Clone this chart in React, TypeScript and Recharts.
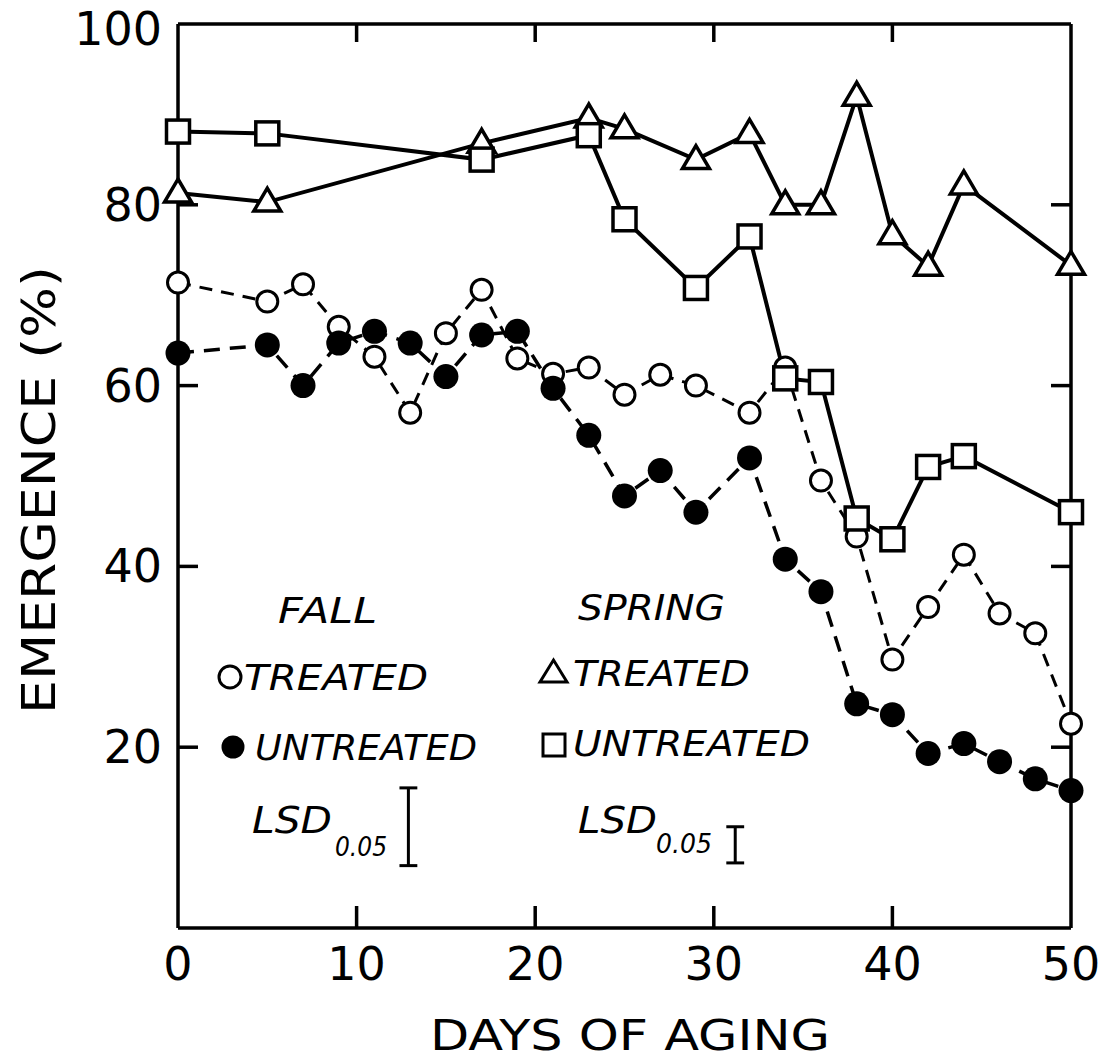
import React from "react";
import { LineChart, Line, XAxis, YAxis, ReferenceLine } from "recharts";

const W = 1109;
const H = 1063;
const FONT = "DejaVu Sans";

// days of aging and % emergence
const FALL_DAYS = [0, 5, 7, 9, 11, 13, 15, 17, 19, 21, 23, 25, 27, 29, 32, 34, 36, 38, 40, 42, 44, 46, 48, 50];
const FALL_TREATED = [71.4, 69.3, 71.2, 66.5, 63.2, 57, 65.8, 70.6, 63, 61.3, 62, 59, 61.2, 60, 57, 62, 49.5, 43.3, 29.7, 35.5, 41.3, 34.8, 32.6, 22.6];
const FALL_UNTREATED = [63.6, 64.5, 60, 64.7, 66, 64.7, 61, 65.6, 66, 59.7, 54.5, 47.8, 50.6, 46, 52, 40.8, 37.2, 24.8, 23.6, 19.3, 20.4, 18.4, 16.5, 15.2];

const SPRING_DAYS = [0, 5, 17, 23, 25, 29, 32, 34, 36, 38, 40, 42, 44, 50];
const SPRING_TREATED = [81.3, 80.3, 86.8, 89.6, 88.4, 85, 87.9, 80, 80, 92, 76.7, 73.2, 82.2, 73.3];
const SPRING_UNTREATED = [88.1, 87.9, 85, 87.7, 78.4, 70.8, 76.5, 60.8, 60.4, 45.3, 43, 51, 52.2, 46];

const X_TICKS = [0, 10, 20, 30, 40, 50];
const Y_TICKS = [20, 40, 60, 80, 100];

// least significant differences (P = 0.05)
const FALL_LSD = 8.6;
const SPRING_LSD = 4.0;

const rows = (days: number[], vals: number[]) => days.map((day, i) => ({ day, value: vals[i] }));
const fallTreated = rows(FALL_DAYS, FALL_TREATED);
const fallUntreated = rows(FALL_DAYS, FALL_UNTREATED);
const springTreated = rows(SPRING_DAYS, SPRING_TREATED);
const springUntreated = rows(SPRING_DAYS, SPRING_UNTREATED);

const AXIS = { stroke: "#000", strokeWidth: 3.5 };

const OpenCircle = (p: any) =>
  p.cx == null ? null : <circle key={p.index} cx={p.cx} cy={p.cy} r={10.5} fill="#fff" stroke="#000" strokeWidth={3} />;
const FilledCircle = (p: any) =>
  p.cx == null ? null : <circle key={p.index} cx={p.cx} cy={p.cy} r={12.5} fill="#000" />;
const Triangle = (p: any) =>
  p.cx == null ? null : (
    <polygon
      key={p.index}
      points={`${p.cx},${p.cy - 14} ${p.cx - 13.5},${p.cy + 9} ${p.cx + 13.5},${p.cy + 9}`}
      fill="#fff"
      stroke="#000"
      strokeWidth={3.5}
    />
  );
const Square = (p: any) =>
  p.cx == null ? null : (
    <rect key={p.index} x={p.cx - 11.5} y={p.cy - 11.5} width={23} height={23} fill="#fff" stroke="#000" strokeWidth={3.5} />
  );

const BottomTick = ({ x, y, payload }: any) => (
  <g>
    {payload.value > 0 && payload.value < 50 && <line x1={x} x2={x} y1={y} y2={y - 22} stroke="#000" strokeWidth={3.5} />}
    <text x={x} y={y + 36} textAnchor="middle" dominantBaseline="central" fontSize={46} fontFamily={FONT}>
      {payload.value}
    </text>
  </g>
);
const TopTick = ({ x, y, payload }: any) => (
  <line key={payload.value} x1={x} x2={x} y1={y} y2={y + 18} stroke="#000" strokeWidth={3.5} />
);
const LeftTick = ({ x, y, payload }: any) => (
  <g>
    {payload.value < 100 && <line x1={x} x2={x + 20} y1={y} y2={y} stroke="#000" strokeWidth={3.5} />}
    <text x={x - 16} y={payload.value === 100 ? y + 5 : y} textAnchor="end" dominantBaseline="central" fontSize={46} fontFamily={FONT}>
      {payload.value}
    </text>
  </g>
);
const RightTick = ({ x, y, payload }: any) => (
  <line key={payload.value} x1={x} x2={x - 20} y1={y} y2={y} stroke="#000" strokeWidth={3.5} />
);

// an LSD bar drawn in data units at a given spot of the plot
const lsdBar = (day: number, mid: number, len: number, key: string) => {
  const lo = mid - len / 2;
  const hi = mid + len / 2;
  const cap = 0.5;
  const style = { stroke: "#000", strokeWidth: 3, ifOverflow: "visible" as const };
  return [
    <ReferenceLine key={key + "s"} segment={[{ x: day, y: lo }, { x: day, y: hi }]} {...style} />,
    <ReferenceLine key={key + "t"} segment={[{ x: day - cap, y: hi }, { x: day + cap, y: hi }]} {...style} />,
    <ReferenceLine key={key + "b"} segment={[{ x: day - cap, y: lo }, { x: day + cap, y: lo }]} {...style} />,
  ];
};

export default function App() {
  const legendText = { fontFamily: FONT, fontStyle: "italic" as const, fontSize: 35, lengthAdjust: "spacingAndGlyphs" as const };
  return (
    <div style={{ position: "absolute", left: 0, top: 0, width: W, height: H, background: "#fff" }}>
      <LineChart width={W} height={H} margin={{ top: 23, right: 37, bottom: 134, left: 177 }}>
        <XAxis
          dataKey="day"
          type="number"
          domain={[0, 50]}
          ticks={X_TICKS}
          interval={0}
          height={1}
          tickSize={0}
          tickMargin={0}
          tickLine={false}
          axisLine={AXIS}
          tick={BottomTick}
        />
        <XAxis
          xAxisId="top"
          orientation="top"
          dataKey="day"
          type="number"
          domain={[0, 50]}
          allowDataOverflow
          ticks={[10, 20, 30, 40]}
          interval={0}
          height={1}
          tickSize={0}
          tickMargin={0}
          tickLine={false}
          axisLine={AXIS}
          tick={TopTick}
        />
        <YAxis
          type="number"
          domain={[0, 100]}
          ticks={Y_TICKS}
          interval={0}
          width={1}
          tickSize={0}
          tickMargin={0}
          tickLine={false}
          axisLine={AXIS}
          tick={LeftTick}
        />
        <YAxis
          yAxisId="right"
          orientation="right"
          type="number"
          domain={[0, 100]}
          allowDataOverflow
          ticks={[20, 40, 60, 80]}
          interval={0}
          width={1}
          tickSize={0}
          tickMargin={0}
          tickLine={false}
          axisLine={AXIS}
          tick={RightTick}
        />

        {lsdBar(12.9, 11.2, FALL_LSD, "fall")}
        {lsdBar(31.2, 9.2, SPRING_LSD, "spring")}

        <Line
          data={fallTreated}
          dataKey="value"
          type="linear"
          stroke="#000"
          strokeWidth={3}
          strokeDasharray="13 9"
          dot={OpenCircle}
          activeDot={false}
          isAnimationActive={false}
        />
        <Line
          data={fallUntreated}
          dataKey="value"
          type="linear"
          stroke="#000"
          strokeWidth={3.5}
          strokeDasharray="16 10"
          dot={FilledCircle}
          activeDot={false}
          isAnimationActive={false}
        />
        <Line
          data={springTreated}
          dataKey="value"
          type="linear"
          stroke="#000"
          strokeWidth={4}
          dot={Triangle}
          activeDot={false}
          isAnimationActive={false}
        />
        <Line
          data={springUntreated}
          dataKey="value"
          type="linear"
          stroke="#000"
          strokeWidth={4}
          dot={Square}
          activeDot={false}
          isAnimationActive={false}
        />
      </LineChart>

      <svg width={W} height={H} style={{ position: "absolute", left: 0, top: 0, pointerEvents: "none" }}>
        <text
          transform="translate(38,490) rotate(-90)"
          textAnchor="middle"
          dominantBaseline="central"
          fontSize={47}
          fontFamily={FONT}
          textLength={448}
          lengthAdjust="spacingAndGlyphs"
        >
          EMERGENCE (%)
        </text>
        <text x={430} y={1050} fontSize={43} fontFamily={FONT} textLength={400} lengthAdjust="spacingAndGlyphs">
          DAYS OF AGING
        </text>

        <text x={278} y={623} {...legendText} textLength={99}>FALL</text>
        <text x={578} y={620} {...legendText} textLength={147}>SPRING</text>

        <circle cx={230} cy={677} r={11} fill="#fff" stroke="#000" strokeWidth={3} />
        <text x={244} y={690} {...legendText} textLength={184}>TREATED</text>
        <circle cx={233} cy={747} r={11.5} fill="#000" />
        <text x={255} y={760} {...legendText} textLength={222}>UNTREATED</text>

        <polygon points="540,682 567,682 553.5,660" fill="#fff" stroke="#000" strokeWidth={3} />
        <text x={573} y={686} {...legendText} textLength={177}>TREATED</text>
        <rect x={543} y={734} width={22} height={22} fill="#fff" stroke="#000" strokeWidth={3} />
        <text x={573} y={756} {...legendText} textLength={237}>UNTREATED</text>

        <text x={252} y={833} {...legendText} fontSize={37} textLength={80}>LSD</text>
        <text x={335} y={856} {...legendText} fontSize={26} textLength={52}>0.05</text>
        <text x={578} y={833} {...legendText} fontSize={37} textLength={79}>LSD</text>
        <text x={656} y={853} {...legendText} fontSize={26} textLength={56}>0.05</text>
      </svg>
    </div>
  );
}
